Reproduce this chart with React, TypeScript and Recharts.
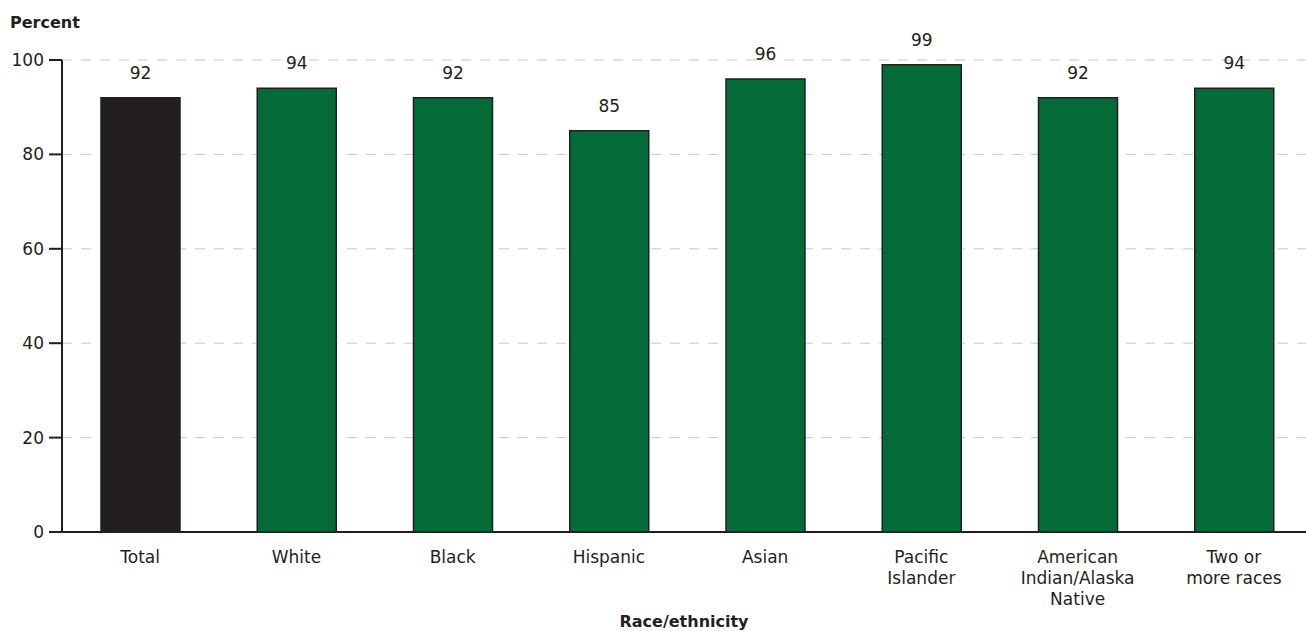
import React from "react";
import { BarChart, Bar, XAxis, YAxis, CartesianGrid, Cell, LabelList } from "recharts";

const categories = ["Total", "White", "Black", "Hispanic", "Asian", "Pacific Islander", "American Indian/Alaska Native", "Two or more races"];
const tickLines = [["Total"], ["White"], ["Black"], ["Hispanic"], ["Asian"], ["Pacific", "Islander"], ["American", "Indian/Alaska", "Native"], ["Two or", "more races"]];
const values = [92, 94, 92, 85, 96, 99, 92, 94];
const yTicks = [0, 20, 40, 60, 80, 100];

const data = categories.map((c, i) => ({ name: c, value: values[i], idx: i }));

const FONT = "'DejaVu Sans', sans-serif";
const TEXT = "#231f20";

const XTick = (props: any) => {
  const { x, y, payload } = props;
  const lines = tickLines[payload.index] || [payload.value];
  return (
    <g transform={`translate(${x},${y})`}>
      {lines.map((l: string, i: number) => (
        <text key={i} x={0} y={i * 21} dy={23} textAnchor="middle" fontSize={17} fontFamily={FONT} fill={TEXT}>
          {l}
        </text>
      ))}
    </g>
  );
};

export default function App() {
  return (
    <div style={{ position: "absolute", left: 0, top: 0, width: 1306, height: 631, background: "#fff" }}>
      <BarChart width={1306} height={631} data={data} margin={{ top: 60, right: -6, bottom: 19, left: 0 }} barCategoryGap={0}>
        <CartesianGrid vertical={false} stroke="#c8c8c8" strokeDasharray="10 9" horizontalValues={[20, 40, 60, 80, 100]} />
        <XAxis dataKey="name" interval={0} tickLine={false} stroke={TEXT} strokeWidth={2} height={80} tick={<XTick />} />
        <YAxis
          domain={[0, 100]}
          ticks={yTicks}
          width={62}
          tickSize={13}
          tickMargin={5}
          stroke={TEXT}
          strokeWidth={2}
          tick={{ fontSize: 17, fontFamily: FONT, fill: TEXT }}
        />
        <Bar dataKey="value" barSize={79} stroke={TEXT} strokeWidth={1.5} isAnimationActive={false}>
          {data.map((d, i) => (
            <Cell key={i} fill={i === 0 ? "#231f20" : "#046a38"} />
          ))}
          <LabelList dataKey="value" position="top" offset={19} fontSize={17} fontFamily={FONT} fill={TEXT} />
        </Bar>
        <text x={10} y={28} fontSize={16} fontWeight="bold" fontFamily={FONT} fill={TEXT}>Percent</text>
        <text x={684} y={627} textAnchor="middle" fontSize={16} fontWeight="bold" fontFamily={FONT} fill={TEXT}>Race/ethnicity</text>
      </BarChart>
    </div>
  );
}
